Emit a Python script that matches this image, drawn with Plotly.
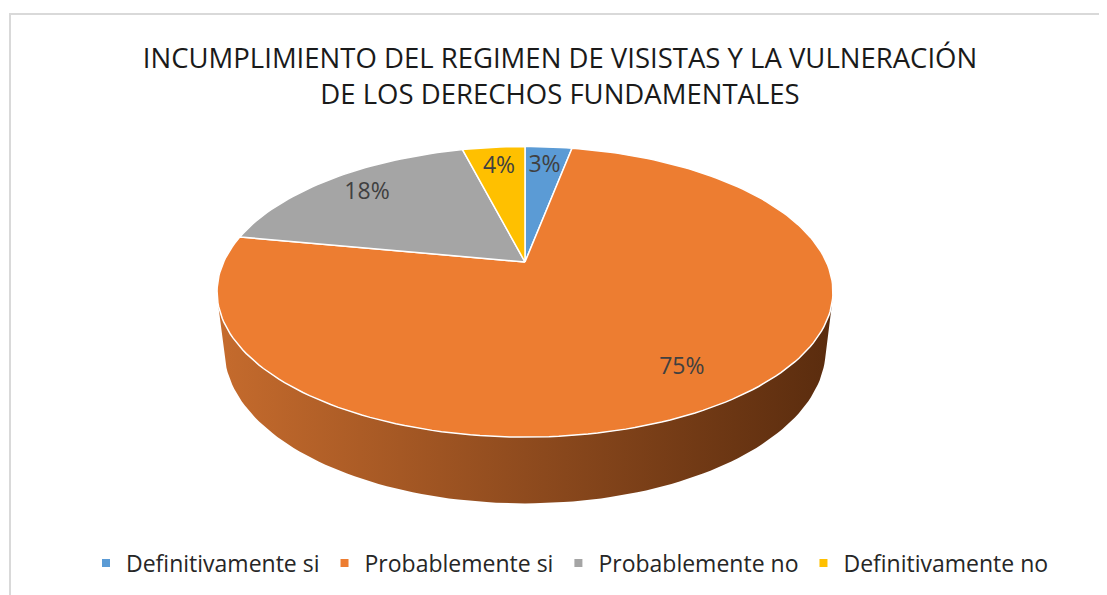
import math

import numpy as np
import plotly.graph_objects as go

# Data
categories = ["Definitivamente si", "Probablemente si", "Probablemente no", "Definitivamente no"]
shares = [3, 75, 18, 4]
labels = ["3%", "75%", "18%", "4%"]

TITLE = "INCUMPLIMIENTO DEL REGIMEN DE VISISTAS Y LA VULNERACIÓN<br>DE LOS DERECHOS FUNDAMENTALES"
FONT = "Open Sans, sans-serif"

TOP_COLORS = ["#5B9BD5", "#ED7D31", "#A5A5A5", "#FFC000"]
# Side wall shading, light on the left to dark on the right (Excel-ish 3D look)
SIDE_SHADES = [
    ["#4a80b3", "#3b6790", "#2c4f70"],
    ["#c56b2d", "#8f4b1e", "#5a2c0e"],
    ["#8a8a8a", "#6b6b6b", "#4d4d4d"],
    ["#d9a300", "#a98000", "#7a5c00"],
]

W, H = 1107, 595
OFF = 8  # the page body margin shifts the whole figure by 8px

# Fake 3D camera, tuned by eye against the screenshot (units = screen pixels)
CX, CY = 525, 262          # where the slices meet on screen
TILT = math.radians(27.5)
DIST = 4.32
FOCAL = 1302
DEPTH = 0.218              # pie thickness relative to radius
LABEL_R = 0.8


def px(s):
    return (s - OFF) / W


def py(s):
    return 1 - (s - OFF) / H


def project(X, Y, Z):
    X, Y, Z = np.asarray(X, float), np.asarray(Y, float), np.asarray(Z, float)
    d = DIST + Y * math.cos(TILT) - Z * math.sin(TILT)
    sx = CX + X * FOCAL / d
    sy = CY - (Y * math.sin(TILT) + Z * math.cos(TILT)) * FOCAL / d
    return sx, sy


def arc(t0, t1, z, n=240):
    # t measured clockwise from 12 o'clock
    t = np.linspace(t0, t1, max(int(n * (t1 - t0) / (2 * math.pi)) + 2, 3))
    return project(np.sin(t), np.cos(t), np.full_like(t, z))


fig = go.Figure()

total = float(sum(shares))
bounds = np.concatenate([[0.0], np.cumsum(shares) / total * 2 * math.pi])

# side walls: only the part of the rim turned toward the camera
k = 1.0 / (DIST * math.cos(TILT))
vis0, vis1 = math.acos(-k), 2 * math.pi - math.acos(-k)
for i, cat in enumerate(categories):
    a0, a1 = max(bounds[i], vis0), min(bounds[i + 1], vis1)
    if a1 <= a0:
        continue
    tx, ty = arc(a0, a1, 0.0)
    bx, by = arc(a0, a1, -DEPTH)
    xs = np.concatenate([tx, bx[::-1], tx[:1]])
    ys = np.concatenate([ty, by[::-1], ty[:1]])
    shade = SIDE_SHADES[i]
    fig.add_trace(
        go.Scatter(
            x=xs, y=ys, mode="lines", fill="toself",
            line={"width": 0, "color": shade[2]},
            fillgradient={
                "type": "horizontal",
                "colorscale": [[0, shade[0]], [0.5, shade[1]], [1, shade[2]]],
            },
            hoverinfo="skip", showlegend=False,
        )
    )

# top faces
cx0, cy0 = project(0, 0, 0)
for i, cat in enumerate(categories):
    ax, ay = arc(bounds[i], bounds[i + 1], 0.0)
    xs = np.concatenate([[cx0], ax, [cx0]])
    ys = np.concatenate([[cy0], ay, [cy0]])
    fig.add_trace(
        go.Scatter(
            x=xs, y=ys, mode="lines", fill="toself",
            fillcolor=TOP_COLORS[i],
            line={"width": 1.5, "color": "#ffffff"},
            name=cat, text=f"{cat}: {labels[i]}", hoverinfo="text",
            showlegend=False,
        )
    )

# data labels
mids = (bounds[:-1] + bounds[1:]) / 2
lx, ly = project(LABEL_R * np.sin(mids), LABEL_R * np.cos(mids), np.zeros(len(mids)))
fig.add_trace(
    go.Scatter(
        x=lx, y=ly, mode="text", text=labels,
        textfont={"family": FONT, "size": 23, "color": "#404040"},
        hoverinfo="skip", showlegend=False,
    )
)

# legend entries
for i, cat in enumerate(categories):
    fig.add_trace(
        go.Scatter(
            x=[None], y=[None], mode="markers", name=cat,
            marker={"symbol": "square", "size": 8, "color": TOP_COLORS[i]},
        )
    )

fig.update_layout(
    width=W, height=H,
    margin={"l": 0, "r": 0, "t": 0, "b": 0},
    paper_bgcolor="#ffffff",
    plot_bgcolor="#ffffff",
    font={"family": FONT, "color": "#262626"},
    title={
        "text": TITLE,
        "x": px(560), "xanchor": "center",
        "y": py(68), "yanchor": "middle",
        "font": {"family": FONT, "size": 27.5, "color": "#1a1a1a"},
    },
    xaxis={"range": [OFF, W + OFF], "visible": False, "fixedrange": True},
    yaxis={"range": [H + OFF, OFF], "visible": False, "fixedrange": True},
    showlegend=True,
    legend={
        "orientation": "h",
        "x": px(570), "xanchor": "center",
        "y": py(563), "yanchor": "middle",
        "font": {"family": FONT, "size": 23, "color": "#262626"},
        "itemsizing": "trace",
        "itemwidth": 30,
        "bgcolor": "rgba(0,0,0,0)",
    },
    shapes=[
        {
            "type": "rect", "xref": "paper", "yref": "paper",
            "x0": px(10), "x1": 1.05, "y0": -0.05, "y1": py(14),
            "line": {"color": "#d9d9d9", "width": 2},
        }
    ],
)

fig.write_html("out.html")
